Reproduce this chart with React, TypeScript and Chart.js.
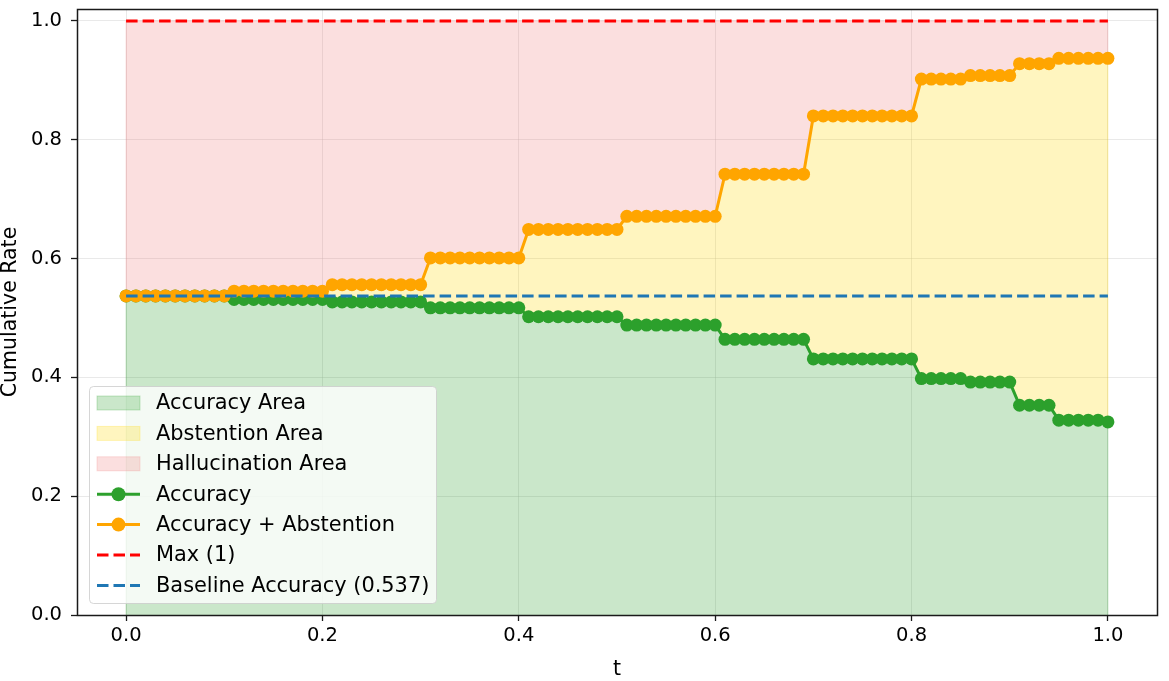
import React, { useEffect, useRef } from "react";
import { Chart, registerables } from "chart.js";

Chart.register(...registerables);

// ---------- data ----------
const tValues = [
  0.0, 0.01, 0.02, 0.03, 0.04, 0.05, 0.06, 0.07, 0.08, 0.09,
  0.1, 0.11, 0.12, 0.13, 0.14, 0.15, 0.16, 0.17, 0.18, 0.19,
  0.2, 0.21, 0.22, 0.23, 0.24, 0.25, 0.26, 0.27, 0.28, 0.29,
  0.3, 0.31, 0.32, 0.33, 0.34, 0.35, 0.36, 0.37, 0.38, 0.39,
  0.4, 0.41, 0.42, 0.43, 0.44, 0.45, 0.46, 0.47, 0.48, 0.49,
  0.5, 0.51, 0.52, 0.53, 0.54, 0.55, 0.56, 0.57, 0.58, 0.59,
  0.6, 0.61, 0.62, 0.63, 0.64, 0.65, 0.66, 0.67, 0.68, 0.69,
  0.7, 0.71, 0.72, 0.73, 0.74, 0.75, 0.76, 0.77, 0.78, 0.79,
  0.8, 0.81, 0.82, 0.83, 0.84, 0.85, 0.86, 0.87, 0.88, 0.89,
  0.9, 0.91, 0.92, 0.93, 0.94, 0.95, 0.96, 0.97, 0.98, 0.99,
  1.0,
];

const accuracy = [
  0.537, 0.537, 0.537, 0.537, 0.537, 0.537, 0.537, 0.537, 0.537, 0.537,
  0.537, 0.531, 0.531, 0.531, 0.531, 0.531, 0.531, 0.531, 0.531, 0.531,
  0.531, 0.527, 0.527, 0.527, 0.527, 0.527, 0.527, 0.527, 0.527, 0.527,
  0.527, 0.517, 0.517, 0.517, 0.517, 0.517, 0.517, 0.517, 0.517, 0.517,
  0.517, 0.502, 0.502, 0.502, 0.502, 0.502, 0.502, 0.502, 0.502, 0.502,
  0.502, 0.488, 0.488, 0.488, 0.488, 0.488, 0.488, 0.488, 0.488, 0.488,
  0.488, 0.464, 0.464, 0.464, 0.464, 0.464, 0.464, 0.464, 0.464, 0.464,
  0.431, 0.431, 0.431, 0.431, 0.431, 0.431, 0.431, 0.431, 0.431, 0.431,
  0.431, 0.398, 0.398, 0.398, 0.398, 0.398, 0.392, 0.392, 0.392, 0.392,
  0.392, 0.353, 0.353, 0.353, 0.353, 0.328, 0.328, 0.328, 0.328, 0.328,
  0.325,
];

const accuracyPlusAbstention = [
  0.537, 0.537, 0.537, 0.537, 0.537, 0.537, 0.537, 0.537, 0.537, 0.537,
  0.537, 0.545, 0.545, 0.545, 0.545, 0.545, 0.545, 0.545, 0.545, 0.545,
  0.545, 0.556, 0.556, 0.556, 0.556, 0.556, 0.556, 0.556, 0.556, 0.556,
  0.556, 0.601, 0.601, 0.601, 0.601, 0.601, 0.601, 0.601, 0.601, 0.601,
  0.601, 0.649, 0.649, 0.649, 0.649, 0.649, 0.649, 0.649, 0.649, 0.649,
  0.649, 0.671, 0.671, 0.671, 0.671, 0.671, 0.671, 0.671, 0.671, 0.671,
  0.671, 0.742, 0.742, 0.742, 0.742, 0.742, 0.742, 0.742, 0.742, 0.742,
  0.84, 0.84, 0.84, 0.84, 0.84, 0.84, 0.84, 0.84, 0.84, 0.84,
  0.84, 0.902, 0.902, 0.902, 0.902, 0.902, 0.908, 0.908, 0.908, 0.908,
  0.908, 0.928, 0.928, 0.928, 0.928, 0.937, 0.937, 0.937, 0.937, 0.937,
  0.937,
];

const maxValue = 1;
const baselineAccuracy = 0.537;
const xTickValues = [0, 0.2, 0.4, 0.6, 0.8, 1.0];
const yTickValues = [0, 0.2, 0.4, 0.6, 0.8, 1.0];
const xLabel = "t";
const yLabel = "Cumulative Rate";
const legendLabels = [
  "Accuracy Area",
  "Abstention Area",
  "Hallucination Area",
  "Accuracy",
  "Accuracy + Abstention",
  "Max (1)",
  "Baseline Accuracy (0.537)",
];

// ---------- styles ----------
const FONT = "'DejaVu Sans', 'Liberation Sans', sans-serif";
const GREEN = "#2ca02c";
const ORANGE = "#ffa500";
const RED = "#ff0000";
const BLUE = "#1f77b4";
const GREEN_FILL = "rgba(44,160,44,0.25)";
const GOLD_FILL = "rgba(255,215,0,0.25)";
const RED_FILL = "rgba(240,128,128,0.25)";
const DASH = [11.5, 5];

const frameAndLegend = {
  id: "frameAndLegend",
  beforeDatasetsDraw(chart: any) {
    const { ctx, scales } = chart;
    const x = scales.x;
    const y = scales.y;
    const x0 = x.getPixelForValue(tValues[0]);
    const x1 = x.getPixelForValue(tValues[tValues.length - 1]);
    const n = tValues.length - 1;
    ctx.save();
    ctx.lineWidth = 1;
    const seg = (px: number, a: number, b: number, c: string) => {
      ctx.strokeStyle = c;
      ctx.beginPath();
      ctx.moveTo(px, y.getPixelForValue(a));
      ctx.lineTo(px, y.getPixelForValue(b));
      ctx.stroke();
    };
    seg(x0, 0, accuracy[0], GREEN_FILL);
    seg(x1, 0, accuracy[n], GREEN_FILL);
    seg(x1, accuracy[n], accuracyPlusAbstention[n], GOLD_FILL);
    seg(x0, accuracyPlusAbstention[0], maxValue, RED_FILL);
    seg(x1, accuracyPlusAbstention[n], maxValue, RED_FILL);
    ctx.restore();
  },
  afterDraw(chart: any) {
    const { ctx, chartArea } = chart;
    ctx.save();
    // full frame
    ctx.strokeStyle = "#1a1a1a";
    ctx.lineWidth = 1.5;
    ctx.strokeRect(
      Math.round(chartArea.left) + 0.5,
      Math.round(chartArea.top) + 0.5,
      Math.round(chartArea.right - chartArea.left),
      Math.round(chartArea.bottom - chartArea.top)
    );

    // legend
    const bx = 89.5, by = 386.5, bw = 347, bh = 217;
    ctx.beginPath();
    ctx.roundRect(bx, by, bw, bh, 4);
    ctx.fillStyle = "rgba(255,255,255,0.8)";
    ctx.fill();
    ctx.strokeStyle = "rgba(204,204,204,0.8)";
    ctx.lineWidth = 1;
    ctx.stroke();

    const hx0 = 97, hx1 = 140;
    const rowY0 = 403, rowDy = 30.4;
    const kinds = [
      { k: "patch", c: GREEN_FILL },
      { k: "patch", c: GOLD_FILL },
      { k: "patch", c: RED_FILL },
      { k: "marker", c: GREEN },
      { k: "marker", c: ORANGE },
      { k: "dash", c: RED },
      { k: "dash", c: BLUE },
    ];
    ctx.font = `20.9px ${FONT}`;
    ctx.textBaseline = "middle";
    ctx.textAlign = "left";
    kinds.forEach((it, i) => {
      const cy = rowY0 + i * rowDy;
      if (it.k === "patch") {
        ctx.fillStyle = it.c;
        ctx.fillRect(hx0, cy - 7, hx1 - hx0, 14);
        ctx.strokeStyle = it.c;
        ctx.lineWidth = 1;
        ctx.strokeRect(hx0, cy - 7, hx1 - hx0, 14);
      } else if (it.k === "marker") {
        ctx.strokeStyle = it.c;
        ctx.lineWidth = 3;
        ctx.setLineDash([]);
        ctx.beginPath();
        ctx.moveTo(hx0, cy);
        ctx.lineTo(hx1, cy);
        ctx.stroke();
        ctx.fillStyle = it.c;
        ctx.beginPath();
        ctx.arc((hx0 + hx1) / 2, cy, 7, 0, Math.PI * 2);
        ctx.fill();
      } else {
        ctx.strokeStyle = it.c;
        ctx.lineWidth = 3;
        ctx.setLineDash(DASH);
        ctx.beginPath();
        ctx.moveTo(hx0, cy);
        ctx.lineTo(hx1, cy);
        ctx.stroke();
        ctx.setLineDash([]);
      }
      ctx.fillStyle = "#000000";
      ctx.fillText(legendLabels[i], 156, cy + 1);
    });
    ctx.restore();
  },
};

function pts(values: number[]) {
  return tValues.map((t, i) => ({ x: t, y: values[i] }));
}

export default function App() {
  const ref = useRef<HTMLCanvasElement | null>(null);

  useEffect(() => {
    if (!ref.current) return;
    const maxLine = tValues.map(() => maxValue);
    const baseLine = tValues.map(() => baselineAccuracy);
    const chart = new Chart(ref.current, {
      type: "line",
      data: {
        datasets: [
          {
            label: legendLabels[0],
            data: pts(accuracy),
            fill: "origin",
            backgroundColor: GREEN_FILL,
            borderColor: GREEN_FILL,
            borderWidth: 1,
            pointRadius: 0,
            order: 10,
          },
          {
            label: legendLabels[1],
            data: pts(accuracyPlusAbstention),
            fill: "-1",
            backgroundColor: GOLD_FILL,
            borderColor: GOLD_FILL,
            borderWidth: 1,
            pointRadius: 0,
            order: 9,
          },
          {
            label: legendLabels[2],
            data: pts(maxLine),
            fill: "-1",
            backgroundColor: RED_FILL,
            borderColor: RED_FILL,
            borderWidth: 1,
            pointRadius: 0,
            order: 8,
          },
          {
            label: legendLabels[3],
            data: pts(accuracy),
            fill: false,
            borderColor: GREEN,
            backgroundColor: GREEN,
            borderWidth: 3,
            pointRadius: 6.5,
            pointBorderWidth: 0,
            pointBackgroundColor: GREEN,
            order: 3,
          },
          {
            label: legendLabels[4],
            data: pts(accuracyPlusAbstention),
            fill: false,
            borderColor: ORANGE,
            backgroundColor: ORANGE,
            borderWidth: 3,
            pointRadius: 6.5,
            pointBorderWidth: 0,
            pointBackgroundColor: ORANGE,
            order: 2,
          },
          {
            label: legendLabels[5],
            data: [
              { x: tValues[0], y: maxLine[0] },
              { x: tValues[tValues.length - 1], y: maxLine[maxLine.length - 1] },
            ],
            fill: false,
            borderColor: RED,
            borderWidth: 3,
            borderDash: DASH,
            pointRadius: 0,
            order: 1,
          },
          {
            label: legendLabels[6],
            data: [
              { x: tValues[0], y: baseLine[0] },
              { x: tValues[tValues.length - 1], y: baseLine[baseLine.length - 1] },
            ],
            fill: false,
            borderColor: BLUE,
            borderWidth: 3,
            borderDash: DASH,
            pointRadius: 0,
            order: 0,
          },
        ],
      },
      options: {
        responsive: false,
        animation: false,
        events: [],
        layout: { padding: { left: 0, right: 12, top: 9, bottom: 0 } },
        elements: { line: { tension: 0 } },
        plugins: {
          legend: { display: false },
          tooltip: { enabled: false },
          title: { display: false },
        },
        scales: {
          x: {
            type: "linear",
            min: -0.05,
            max: 1.05,
            afterBuildTicks: (s: any) => {
              s.ticks = xTickValues.map((v) => ({ value: v }));
            },
            afterFit: (s: any) => {
              s.height = 66;
              s.paddingLeft = 0;
              s.paddingRight = 0;
            },
            border: { display: false },
            grid: {
              color: "rgba(176,176,176,0.28)",
              lineWidth: 1,
              drawTicks: true,
              tickLength: 6,
              tickColor: "#1a1a1a",
              tickWidth: 1.3,
            },
            ticks: {
              callback: (v: any) => Number(v).toFixed(1),
              color: "#000000",
              font: { family: FONT, size: 19.5 },
              padding: 3,
              maxRotation: 0,
              autoSkip: false,
            },
            title: {
              display: true,
              text: xLabel,
              color: "#000000",
              font: { family: FONT, size: 20.5, lineHeight: 1 },
              padding: { top: 0, bottom: 1 },
            },
          },
          y: {
            type: "linear",
            min: 0,
            max: 1.02,
            afterBuildTicks: (s: any) => {
              s.ticks = yTickValues.map((v) => ({ value: v }));
            },
            afterFit: (s: any) => {
              s.width = 77;
              s.paddingTop = 0;
              s.paddingBottom = 0;
            },
            border: { display: false },
            grid: {
              color: "rgba(176,176,176,0.28)",
              lineWidth: 1,
              drawTicks: true,
              tickLength: 6,
              tickColor: "#1a1a1a",
              tickWidth: 1.3,
            },
            ticks: {
              callback: (v: any) => Number(v).toFixed(1),
              color: "#000000",
              font: { family: FONT, size: 19.5 },
              padding: 9,
              autoSkip: false,
            },
            title: {
              display: true,
              text: yLabel,
              color: "#000000",
              font: { family: FONT, size: 20.5, lineHeight: 1 },
              padding: { top: 0, bottom: 0 },
            },
          },
        },
      },
      plugins: [frameAndLegend],
    });
    return () => chart.destroy();
  }, []);

  return (
    <div style={{ position: "fixed", left: 0, top: 0, width: 1169, height: 681, background: "#ffffff" }}>
      <canvas ref={ref} width={1169} height={681} style={{ width: 1169, height: 681, display: "block" }} />
    </div>
  );
}
